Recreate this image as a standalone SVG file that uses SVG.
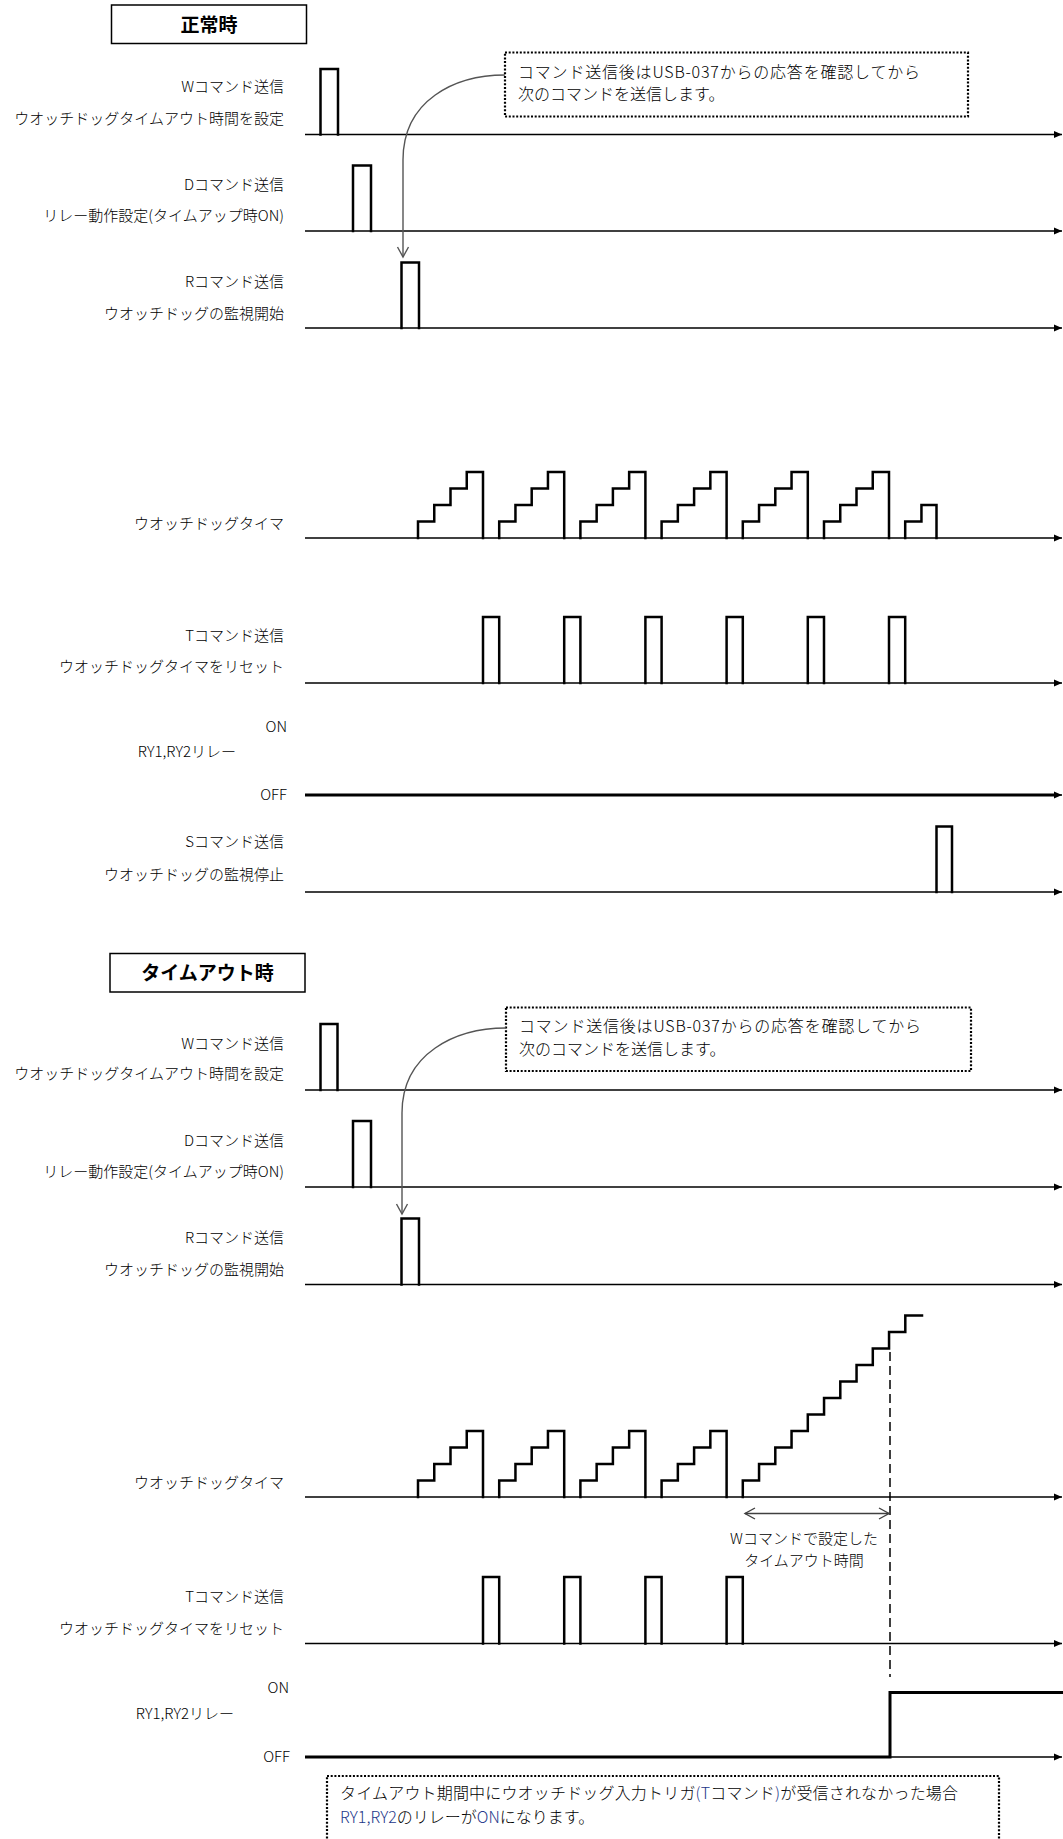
<svg xmlns="http://www.w3.org/2000/svg" width="1063" height="1839" viewBox="0 0 1063 1839">
<defs>
<style>
text{font-family:"Noto Sans CJK JP","Noto Sans",sans-serif;fill:#000;font-weight:300}
.lbl{font-size:15px;text-anchor:end}
.ct{font-size:16px}
.ttl{font-size:19px;font-weight:bold;text-anchor:middle}
.box{fill:#fff;stroke:#000;stroke-width:1.5}
.axis{fill:none;stroke:#000;stroke-width:1.5;marker-end:url(#ah)}
.thick{fill:none;stroke:#000;stroke-width:3}
.sig{fill:none;stroke:#000;stroke-width:2.5;stroke-linejoin:miter;stroke-linecap:square}
.call{fill:#fff;stroke:#000;stroke-width:2.2;stroke-dasharray:2 1.7}
.conn{fill:none;stroke:#555;stroke-width:1.4;marker-end:url(#va)}
.dim{fill:none;stroke:#404040;stroke-width:1.4;marker-start:url(#vb);marker-end:url(#vb)}
.dash{fill:none;stroke:#000;stroke-width:1.5;stroke-dasharray:9 5}
.blue{fill:#24378a}
</style>
<marker id="ah" markerUnits="userSpaceOnUse" markerWidth="9" markerHeight="8" refX="8" refY="4" orient="auto"><path d="M0,0.5 L8,4 L0,7.5 z" fill="#000"/></marker>
<marker id="va" markerUnits="userSpaceOnUse" markerWidth="12" markerHeight="12" refX="10" refY="5.5" orient="auto" overflow="visible"><path d="M0,0 L10,5.5 L0,11" fill="none" stroke="#555" stroke-width="1.4"/></marker>
<marker id="vb" markerUnits="userSpaceOnUse" markerWidth="12" markerHeight="12" refX="10" refY="5.5" orient="auto-start-reverse" overflow="visible"><path d="M0,0 L10,5.5 L0,11" fill="none" stroke="#404040" stroke-width="1.4"/></marker>
</defs>
<rect width="1063" height="1839" fill="#fff"/>

<!-- ===== Section 1: 正常時 ===== -->
<g id="title-normal">
<rect class="box" x="111.5" y="5" width="195" height="38.5"/>
<text class="ttl" x="209" y="31.5" font-size="20">正常時</text>
</g>

<g id="labels-normal">
<text class="lbl" x="284" y="92">Wコマンド送信</text>
<text class="lbl" x="284" y="124">ウオッチドッグタイムアウト時間を設定</text>
<text class="lbl" x="284" y="189.5">Dコマンド送信</text>
<text class="lbl" x="284" y="220.5">リレー動作設定(タイムアップ時ON)</text>
<text class="lbl" x="284" y="286.5">Rコマンド送信</text>
<text class="lbl" x="284" y="318.5">ウオッチドッグの監視開始</text>
<text class="lbl" x="284" y="529">ウオッチドッグタイマ</text>
<text class="lbl" x="284" y="640.5">Tコマンド送信</text>
<text class="lbl" x="284" y="672">ウオッチドッグタイマをリセット</text>
<text class="lbl" x="287" y="732">ON</text>
<text class="lbl" x="236" y="757">RY1,RY2リレー</text>
<text class="lbl" x="287" y="799.5">OFF</text>
<text class="lbl" x="284" y="847">Sコマンド送信</text>
<text class="lbl" x="284" y="880">ウオッチドッグの監視停止</text>
</g>

<g id="callout-normal">
<rect class="call" x="505" y="52.5" width="463" height="64"/>
<text class="ct" x="518" y="77.5" textLength="402" lengthAdjust="spacing">コマンド送信後はUSB-037からの応答を確認してから</text>
<text class="ct" x="518" y="100">次のコマンドを送信します。</text>
</g>

<g id="axes-normal">
<path class="axis" d="M305,134.5 H1062"/>
<path class="axis" d="M305,231 H1062"/>
<path class="axis" d="M305,328 H1062"/>
<path class="axis" d="M305,538 H1062"/>
<path class="axis" d="M305,683 H1062"/>
<path class="thick" d="M305,795 H1055"/>
<path class="axis" d="M1050,795 H1062"/>
<path class="axis" d="M305,892 H1062"/>
</g>

<g id="signals-normal">
<path class="sig" d="M320.5,134.5 V69 H338 V134.5"/>
<path class="sig" d="M353,231 V165.5 H371 V231"/>
<path class="sig" d="M401.5,328 V262.5 H419 V328"/>
<path class="sig" d="M418,538 V521.5 H434.25 V505 H450.5 V488.5 H466.75 V472 H483 V538"/>
<path class="sig" d="M499.2,538 V521.5 H515.45 V505 H531.7 V488.5 H547.95 V472 H564.2 V538"/>
<path class="sig" d="M580.4,538 V521.5 H596.65 V505 H612.9 V488.5 H629.15 V472 H645.4 V538"/>
<path class="sig" d="M661.6,538 V521.5 H677.85 V505 H694.1 V488.5 H710.35 V472 H726.6 V538"/>
<path class="sig" d="M742.8,538 V521.5 H759.05 V505 H775.3 V488.5 H791.55 V472 H807.8 V538"/>
<path class="sig" d="M824,538 V521.5 H840.25 V505 H856.5 V488.5 H872.75 V472 H889 V538"/>
<path class="sig" d="M905.2,538 V521.5 H921.45 V505 H936.5 V538"/>
<path class="sig" d="M483,683 V617 H499.2 V683"/>
<path class="sig" d="M564.2,683 V617 H580.4 V683"/>
<path class="sig" d="M645.4,683 V617 H661.6 V683"/>
<path class="sig" d="M726.6,683 V617 H742.8 V683"/>
<path class="sig" d="M807.8,683 V617 H824 V683"/>
<path class="sig" d="M889,683 V617 H905.2 V683"/>
<path class="sig" d="M936.5,892 V826.5 H952 V892"/>
</g>

<g id="connectors-normal">
<path class="conn" d="M505,75 C455,75 403,100 403,160 L403,257"/>
</g>

<!-- ===== Section 2: タイムアウト時 ===== -->
<g id="title-timeout">
<rect class="box" x="110" y="953.5" width="195" height="38.5"/>
<text class="ttl" x="207.5" y="979.5">タイムアウト時</text>
</g>

<g id="labels-timeout">
<text class="lbl" x="284" y="1048.5">Wコマンド送信</text>
<text class="lbl" x="284" y="1079">ウオッチドッグタイムアウト時間を設定</text>
<text class="lbl" x="284" y="1145.5">Dコマンド送信</text>
<text class="lbl" x="284" y="1176.5">リレー動作設定(タイムアップ時ON)</text>
<text class="lbl" x="284" y="1243">Rコマンド送信</text>
<text class="lbl" x="284" y="1275">ウオッチドッグの監視開始</text>
<text class="lbl" x="284" y="1487.5">ウオッチドッグタイマ</text>
<text class="lbl" x="284" y="1601.5">Tコマンド送信</text>
<text class="lbl" x="284" y="1634">ウオッチドッグタイマをリセット</text>
<text class="lbl" x="289" y="1693">ON</text>
<text class="lbl" x="234" y="1719">RY1,RY2リレー</text>
<text class="lbl" x="290" y="1762">OFF</text>
</g>

<g id="callout-timeout">
<rect class="call" x="506" y="1007.5" width="465" height="63.5"/>
<text class="ct" x="519" y="1031.5" textLength="402" lengthAdjust="spacing">コマンド送信後はUSB-037からの応答を確認してから</text>
<text class="ct" x="519" y="1055">次のコマンドを送信します。</text>
</g>

<g id="axes-timeout">
<path class="axis" d="M305,1090 H1062"/>
<path class="axis" d="M305,1187 H1062"/>
<path class="axis" d="M305,1284.5 H1062"/>
<path class="axis" d="M305,1497 H1062"/>
<path class="axis" d="M305,1643.5 H1062"/>
<path class="axis" d="M890,1757 H1062"/>
</g>

<g id="signals-timeout">
<path class="sig" d="M320.5,1090 V1024 H337.5 V1090"/>
<path class="sig" d="M353,1187 V1121 H371 V1187"/>
<path class="sig" d="M401.5,1284.5 V1218.5 H419 V1284.5"/>
<path class="sig" d="M418,1497 V1480.5 H434.25 V1464 H450.5 V1447.5 H466.75 V1431 H483 V1497"/>
<path class="sig" d="M499.2,1497 V1480.5 H515.45 V1464 H531.7 V1447.5 H547.95 V1431 H564.2 V1497"/>
<path class="sig" d="M580.4,1497 V1480.5 H596.65 V1464 H612.9 V1447.5 H629.15 V1431 H645.4 V1497"/>
<path class="sig" d="M661.6,1497 V1480.5 H677.85 V1464 H694.1 V1447.5 H710.35 V1431 H726.6 V1497"/>
<path class="sig" d="M742.8,1497 V1480.5 H759.05 V1464 H775.3 V1447.5 H791.55 V1431 H807.8 V1414.5 H824.05 V1398 H840.3 V1381.5 H856.55 V1365 H872.8 V1348.5 H889.05 V1332 H905.3 V1315.5 H922"/>
<path class="sig" d="M483,1643.5 V1577 H499.2 V1643.5"/>
<path class="sig" d="M564.2,1643.5 V1577 H580.4 V1643.5"/>
<path class="sig" d="M645.4,1643.5 V1577 H661.6 V1643.5"/>
<path class="sig" d="M726.6,1643.5 V1577 H742.8 V1643.5"/>
<path class="thick" d="M305,1757 H890 V1692.5 H1063" stroke-linejoin="miter"/>
</g>

<g id="timeout-annotation">
<path class="dash" d="M890,1352 V1677"/>
<path class="dim" d="M745,1513.5 H889"/>
<text x="804" y="1544" font-size="15" text-anchor="middle">Wコマンドで設定した</text>
<text x="804" y="1565.5" font-size="15" text-anchor="middle">タイムアウト時間</text>
</g>

<g id="connectors-timeout">
<path class="conn" d="M506,1028 C456,1028 402,1053 402,1113 L402,1214"/>
</g>

<g id="callout-result">
<rect class="call" x="327" y="1776" width="672" height="90"/>
<text class="ct" x="340" y="1799" textLength="618" lengthAdjust="spacing">タイムアウト期間中にウオッチドッグ入力トリガ<tspan class="blue">(T</tspan>コマンド<tspan class="blue">)</tspan>が受信されなかった場合</text>
<text class="ct" x="340" y="1823"><tspan class="blue">RY1,RY2</tspan>のリレーが<tspan class="blue">ON</tspan>になります。</text>
</g>
</svg>
